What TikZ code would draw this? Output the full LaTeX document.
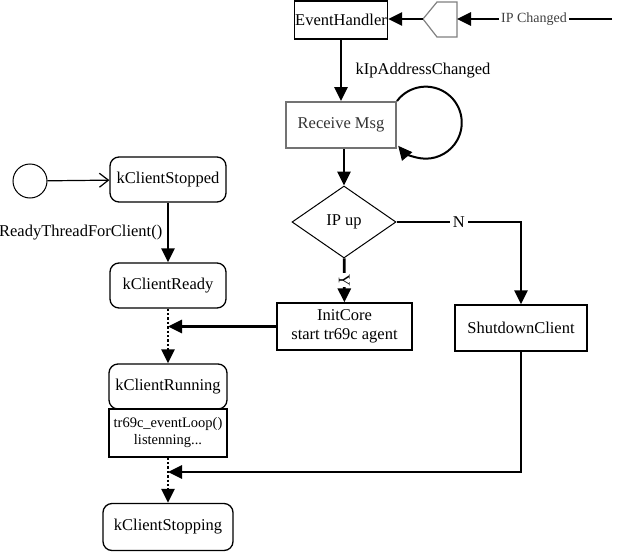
\documentclass[tikz,border=0pt]{standalone}
\usepackage{fontspec}
\setmainfont{Liberation Serif}
\usetikzlibrary{arrows.meta,shapes.geometric}
\begin{document}
\begin{tikzpicture}[x=1pt, y=-1pt,
		font=\fontsize{16.5}{19}\selectfont,
		tip/.style={-{Triangle[length=14pt, width=13pt]}},
		flow/.style={line width=2.8pt, tip},
		dots/.style={line width=2.4pt, dotted, tip},
		box/.style={draw, line width=1.3pt, inner sep=0pt, minimum width=#1, minimum height=46pt, align=center},
		state/.style={box=#1, rounded corners=9pt}]
		\useasboundingbox (0, 0) rectangle (617, 551);

		% message path
		\node[box=93, minimum height=38pt] (evh) at (341, 20) {EventHandler};
		\draw[gray, line width=1.2pt] (423, 19) -- (437, 2) -- (457, 2) -- (457, 37) -- (437, 37) -- cycle;
		\coordinate (pentL) at (423, 19);
		\coordinate (pentR) at (457, 19);
		\node[fill=white, inner sep=2pt, font=\fontsize{14}{16}\selectfont, text=black!75] (ipc) at (534, 19) {IP Changed};
		\coordinate (ipend) at (612, 19);
		\draw[line width=2pt] (ipend) -- (ipc);
		\draw[flow] (ipc) -- (pentR);
		\draw[flow] (pentL) -- (pentL -| evh.east);

		\node[box=110, draw=black!55, line width=2pt, text=black!80] (rcv) at (341, 125) {Receive Msg};
		\draw[flow] (evh) -- (rcv) node[midway, right=10pt] {kIpAddressChanged};
		\draw[line width=2pt, tip] (rcv.north east) arc[start angle=-143, end angle=140, radius=36];

		\node[draw, diamond, line width=1pt, inner sep=0pt, minimum width=104pt, minimum height=72pt] (dia) at (344, 222) {IP up};
		\draw[flow] (rcv.south -| dia.north) -- (dia);

		\node[box=135, minimum height=47pt] (init) at (344.5, 326.5) {InitCore\\start tr69c agent};
		\node[box=132] (shut) at (521, 328) {ShutdownClient};
		\draw[flow] (dia) -- node[fill=white, inner sep=1pt, rotate=-90] {Y} (init);
		\draw[flow] (dia) -| node[pos=0.25, fill=white, inner sep=3pt] {N} (shut);

		% client states
		\node[draw, circle, line width=1pt, minimum size=34pt] (init0) at (30, 181) {};
		\node[state=116, minimum height=45pt] (stopped) at (168, 179.5) {kClientStopped};
		\node[state=116, minimum height=45pt] (ready) at (168, 285.5) {kClientReady};
		\node[state=118, minimum height=45pt] (running) at (168, 386.5) {kClientRunning};
		\node[box=118, minimum height=48pt, font=\fontsize{14.5}{17}\selectfont] (evloop) at (168, 433) {tr69c\_eventLoop()\\listenning...};
		\node[state=130, minimum height=47pt] (stopping) at (168, 527) {kClientStopping};

		\draw[line width=1.2pt, -{Straight Barb[length=9pt, width=14pt]}] (init0) -- (stopped);
		\draw[flow] (stopped) -- node[left=1pt] {ReadyThreadForClient()} (ready);
		\draw[dots] (ready) -- (running);
		\draw[dots] (evloop) -- (stopping);
		\draw[flow] (init.west) -- (init.west -| ready.south);
		\coordinate (merge) at (168, 472);
		\draw[flow] (shut) |- (merge);
	\end{tikzpicture}
\end{document}
